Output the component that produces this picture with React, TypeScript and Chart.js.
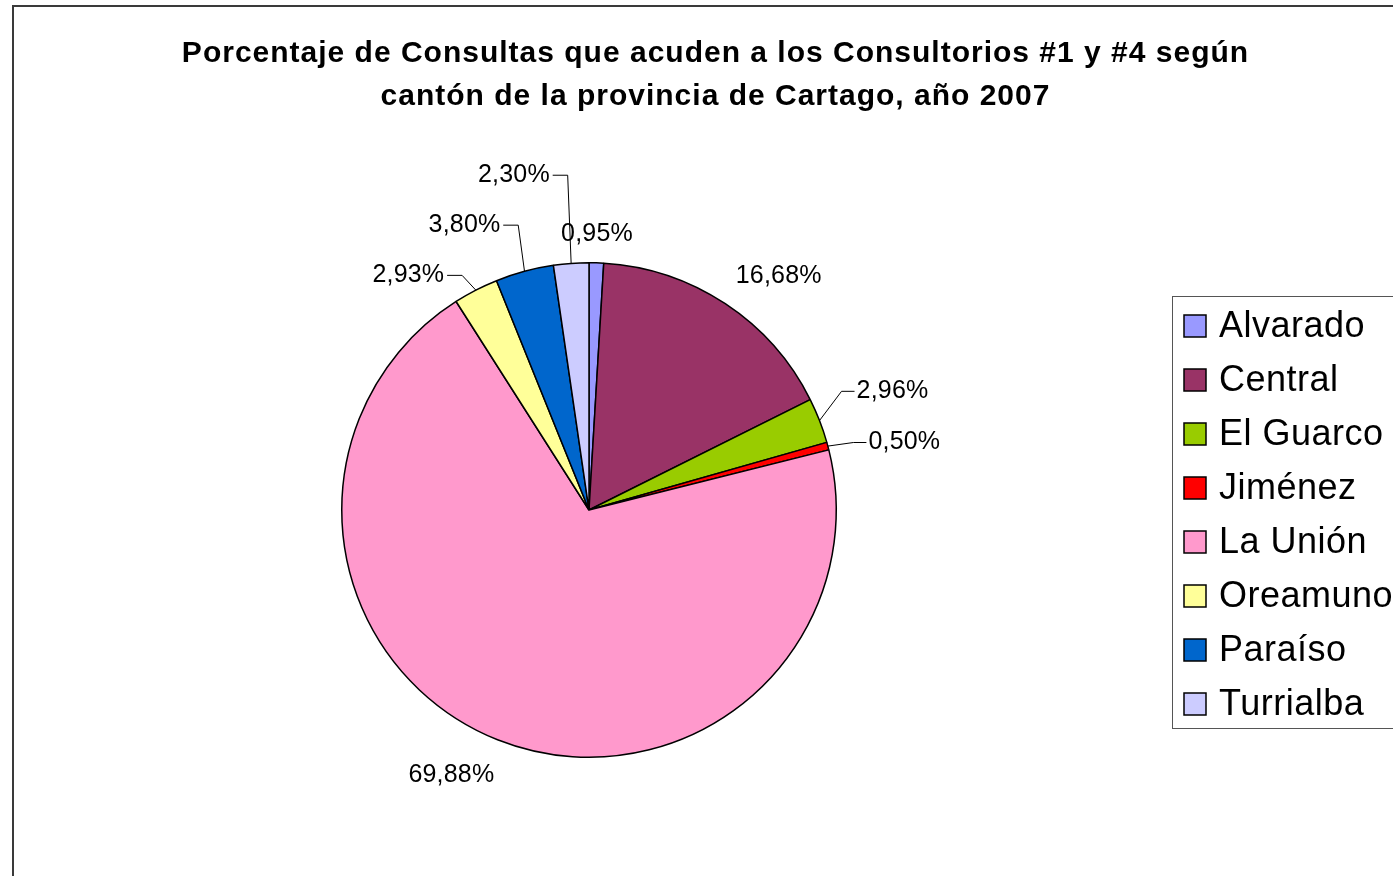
import React, { useEffect, useRef } from "react";
import { Chart, registerables } from "chart.js";

Chart.register(...registerables);

const TITLE_LINES = [
  "Porcentaje de Consultas que acuden a los Consultorios #1 y #4 según",
  "cantón de la provincia de Cartago, año 2007",
];
const CANTONS = ["Alvarado", "Central", "El Guarco", "Jiménez", "La Unión", "Oreamuno", "Paraíso", "Turrialba"];
const PERCENTS = [0.95, 16.68, 2.96, 0.5, 69.88, 2.93, 3.8, 2.3];
const COLORS = ["#9999FF", "#993366", "#99CC00", "#FF0000", "#FF99CC", "#FFFF99", "#0066CC", "#CCCCFF"];
// label centre offsets relative to pie centre, in radius units (layout styling)
const LABEL_POS: [number, number][] = [
  [0.032, -1.115],
  [0.767, -0.945],
  [1.227, -0.48],
  [1.275, -0.273],
  [-0.557, 1.071],
  [-0.731, -0.949],
  [-0.504, -1.152],
  [-0.304, -1.354],
];
const HAS_LEADER = [false, false, true, true, false, true, true, true];

const FONT = "'Liberation Sans', Arial, sans-serif";

const fmt = (v: number) => v.toFixed(2).replace(".", ",") + "%";

const drawSpaced = (ctx: any, text: string, x: number, y: number, spacing: number, align: string) => {
  ctx.letterSpacing = `${spacing}px`;
  const w = ctx.measureText(text).width - spacing;
  ctx.textAlign = "left";
  let sx = x;
  if (align === "center") sx = x - w / 2;
  else if (align === "right") sx = x - w;
  ctx.fillText(text, sx, y);
  ctx.letterSpacing = "0px";
  return w;
};

const decorPlugin = {
  id: "decor",
  beforeDraw(chart: any) {
    const ctx = chart.ctx;
    ctx.save();
    ctx.fillStyle = "#ffffff";
    ctx.fillRect(0, 0, chart.width, chart.height);
    ctx.strokeStyle = "#3a3a3a";
    ctx.lineWidth = 2;
    ctx.strokeRect(13, 6, chart.width + 20, chart.height + 20);
    // title
    ctx.fillStyle = "#000";
    ctx.font = `bold 30px ${FONT}`;
    ctx.textBaseline = "middle";
    drawSpaced(ctx, TITLE_LINES[0], 715, 54, 1.0, "center");
    drawSpaced(ctx, TITLE_LINES[1], 715, 97, 1.0, "center");
    ctx.restore();
  },
  afterDraw(chart: any) {
    const ctx = chart.ctx;
    const meta = chart.getDatasetMeta(0);
    ctx.save();
    ctx.font = `25px ${FONT}`;
    ctx.textBaseline = "middle";
    meta.data.forEach((arc: any, i: number) => {
      const { x, y, startAngle, endAngle, outerRadius } = arc.getProps(
        ["x", "y", "startAngle", "endAngle", "outerRadius"],
        true
      );
      const r = outerRadius;
      const lx = x + LABEL_POS[i][0] * r;
      const ly = y + LABEL_POS[i][1] * r;
      const text = fmt(PERCENTS[i]);
      ctx.fillStyle = "#000";
      const w = drawSpaced(ctx, text, lx, ly, 0.2, "center");
      if (HAS_LEADER[i]) {
        const mid = (startAngle + endAngle) / 2;
        const ex = x + Math.cos(mid) * r;
        const ey = y + Math.sin(mid) * r;
        const right = lx > x;
        const sx = right ? lx - w / 2 - 2 : lx + w / 2 + 3;
        const kx = right ? sx - 13 : sx + 15;
        ctx.strokeStyle = "#000";
        ctx.lineWidth = 1;
        ctx.beginPath();
        ctx.moveTo(sx, ly);
        ctx.lineTo(kx, ly);
        ctx.lineTo(ex, ey);
        ctx.stroke();
      }
    });
    // legend
    const lx0 = 1172.5;
    const ly0 = 296.5;
    ctx.strokeStyle = "#555";
    ctx.lineWidth = 1;
    ctx.strokeRect(lx0, ly0, 400, 432);
    ctx.font = `36px ${FONT}`;
    ctx.textBaseline = "middle";
    CANTONS.forEach((name, i) => {
      const cy = 326 + i * 54;
      ctx.fillStyle = COLORS[i];
      ctx.fillRect(1184, cy - 11, 22, 22);
      ctx.strokeStyle = "#000";
      ctx.lineWidth = 1.5;
      ctx.strokeRect(1184, cy - 11, 22, 22);
      ctx.fillStyle = "#000";
      drawSpaced(ctx, name, 1219, cy + 1, 0.5, "left");
    });
    ctx.restore();
  },
};

export default function App() {
  const ref = useRef<HTMLCanvasElement | null>(null);
  useEffect(() => {
    if (!ref.current) return;
    const chart = new Chart(ref.current, {
      type: "pie",
      data: {
        labels: CANTONS,
        datasets: [
          {
            data: PERCENTS,
            backgroundColor: COLORS,
            borderColor: "#000",
            borderWidth: 1.5,
          },
        ],
      },
      options: {
        animation: false,
        responsive: false,
        devicePixelRatio: 1,
        layout: { padding: { left: 341, right: 556, top: 262, bottom: 118 } },
        plugins: {
          legend: { display: false },
          tooltip: { enabled: false },
          title: { display: false },
        },
      },
      plugins: [decorPlugin],
    });
    return () => chart.destroy();
  }, []);
  return (
    <div style={{ position: "absolute", left: 0, top: 0, width: 1393, height: 876, overflow: "hidden" }}>
      <canvas ref={ref} width={1393} height={876} />
    </div>
  );
}
